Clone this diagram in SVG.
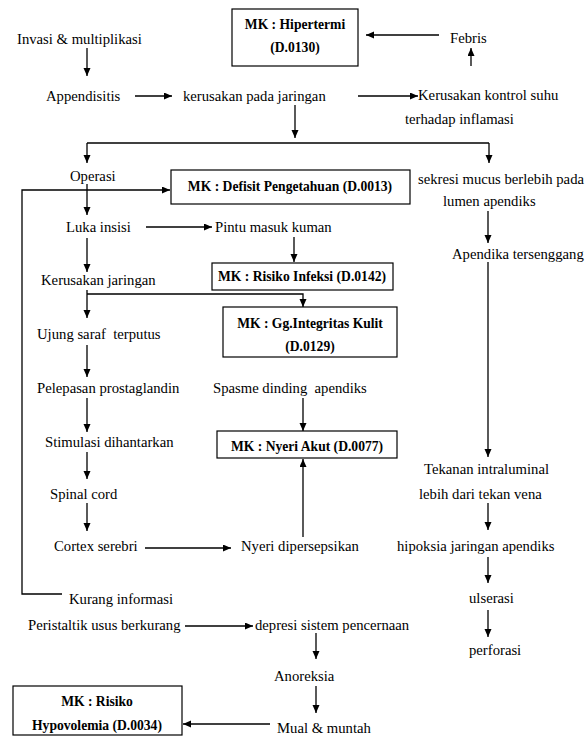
<svg xmlns="http://www.w3.org/2000/svg" width="587" height="736" viewBox="0 0 587 736" font-family="Liberation Serif, Times New Roman, DejaVu Serif, serif">
<style>
.t{font-size:14.7px;fill:#000;white-space:pre}
.b{font-size:13.6px;font-weight:bold;fill:#000;text-anchor:middle}
.box{fill:#fff;stroke:#000;stroke-width:1.2}
.c path{fill:none;stroke:#000;stroke-width:1.3}
.c path.a{marker-end:url(#ah)}
</style>
<defs>
<marker id="ah" markerUnits="userSpaceOnUse" markerWidth="9" markerHeight="8" refX="8" refY="3.5" orient="auto">
<path d="M0,0 L8,3.5 L0,7 z" fill="#000"/>
</marker>
</defs>
<rect width="587" height="736" fill="#fff"/>
<g class="c" id="connectors">
<path class="a" d="M87,48 V76"/>
<path class="a" d="M135,96 H172"/>
<path class="a" d="M358,96 H418"/>
<path class="a" d="M471,66 V48"/>
<path class="a" d="M439,35 H366"/>
<path class="a" d="M295,105 V138"/>
<path d="M87,143 H489"/>
<path class="a" d="M87,143 V163"/>
<path class="a" d="M489,143 V163"/>
<path class="a" d="M87,184 V215"/>
<path class="a" d="M62,594 H22 V190 H170"/>
<path class="a" d="M146,227 H212"/>
<path class="a" d="M294,237 V262"/>
<path class="a" d="M87,238 V272"/>
<path class="a" d="M87,294 H303 V307"/>
<path class="a" d="M87,290 V318"/>
<path class="a" d="M87,345 V377"/>
<path class="a" d="M87,398 V432"/>
<path class="a" d="M87,452 V479"/>
<path class="a" d="M87,503 V531"/>
<path class="a" d="M145,548 H231"/>
<path class="a" d="M303,537 V459"/>
<path class="a" d="M303,398 V431"/>
<path class="a" d="M488,211 V243"/>
<path class="a" d="M488,262 V457"/>
<path class="a" d="M488,503 V530"/>
<path class="a" d="M488,557 V583"/>
<path class="a" d="M488,610 V637"/>
<path class="a" d="M185,626 H253"/>
<path class="a" d="M316,633 V659"/>
<path class="a" d="M316,686 V713"/>
<path class="a" d="M270,724 H183"/>
</g>
<g id="hipertermi"><rect class="box" x="232" y="9" width="126" height="57"/><text class="b" x="295" y="29">MK : Hipertermi</text><text class="b" x="295" y="52">(D.0130)</text></g>
<g id="defisit"><rect class="box" x="171" y="170" width="239" height="34"/><text class="b" x="290" y="191">MK : Defisit Pengetahuan (D.0013)</text></g>
<g id="risiko-infeksi"><rect class="box" x="212" y="263" width="181" height="27"/><text class="b" x="302" y="281">MK : Risiko Infeksi (D.0142)</text></g>
<g id="integritas"><rect class="box" x="223" y="307" width="174" height="50"/><text class="b" x="310" y="328">MK : Gg.Integritas Kulit</text><text class="b" x="310" y="351">(D.0129)</text></g>
<g id="nyeri-akut"><rect class="box" x="217" y="431" width="180" height="27"/><text class="b" x="307" y="451">MK : Nyeri Akut (D.0077)</text></g>
<g id="hypovolemia"><rect class="box" x="13" y="686" width="169" height="49"/><text class="b" x="97" y="706">MK : Risiko</text><text class="b" x="97" y="730">Hypovolemia (D.0034)</text></g>
<g id="invasi"><text class="t" x="17" y="44">Invasi &amp; multiplikasi</text></g>
<g id="appendisitis"><text class="t" x="46" y="101">Appendisitis</text></g>
<g id="kerusakan-jaringan-1"><text class="t" x="183" y="101">kerusakan pada jaringan</text></g>
<g id="kontrol-suhu"><text class="t" x="418" y="100">Kerusakan kontrol suhu</text><text class="t" x="405" y="124">terhadap inflamasi</text></g>
<g id="febris"><text class="t" x="450" y="43">Febris</text></g>
<g id="operasi"><text class="t" x="70" y="181">Operasi</text></g>
<g id="sekresi"><text class="t" x="418" y="184">sekresi mucus berlebih pada</text><text class="t" x="443" y="206">lumen apendiks</text></g>
<g id="luka"><text class="t" x="66" y="232">Luka insisi</text></g>
<g id="pintu"><text class="t" x="215" y="232">Pintu masuk kuman</text></g>
<g id="kerusakan-jaringan-2"><text class="t" x="41" y="285">Kerusakan jaringan</text></g>
<g id="ujung"><text class="t" x="37" y="339">Ujung saraf  terputus</text></g>
<g id="pelepasan"><text class="t" x="37" y="393">Pelepasan prostaglandin</text></g>
<g id="spasme"><text class="t" x="213" y="393">Spasme dinding  apendiks</text></g>
<g id="stimulasi"><text class="t" x="45" y="447">Stimulasi dihantarkan</text></g>
<g id="spinal"><text class="t" x="50" y="499">Spinal cord</text></g>
<g id="cortex"><text class="t" x="54" y="551">Cortex serebri</text></g>
<g id="nyeri-dipersepsikan"><text class="t" x="241" y="551">Nyeri dipersepsikan</text></g>
<g id="apendika"><text class="t" x="452" y="259">Apendika tersenggang</text></g>
<g id="tekanan"><text class="t" x="424" y="474">Tekanan intraluminal</text><text class="t" x="419" y="499">lebih dari tekan vena</text></g>
<g id="hipoksia"><text class="t" x="397" y="551">hipoksia jaringan apendiks</text></g>
<g id="ulserasi"><text class="t" x="469" y="603">ulserasi</text></g>
<g id="perforasi"><text class="t" x="469" y="655">perforasi</text></g>
<g id="kurang-informasi"><text class="t" x="69" y="604">Kurang informasi</text></g>
<g id="peristaltik"><text class="t" x="28" y="630">Peristaltik usus berkurang</text></g>
<g id="depresi"><text class="t" x="255" y="630">depresi sistem pencernaan</text></g>
<g id="anoreksia"><text class="t" x="274" y="681">Anoreksia</text></g>
<g id="mual"><text class="t" x="277" y="733">Mual &amp; muntah</text></g>
</svg>
